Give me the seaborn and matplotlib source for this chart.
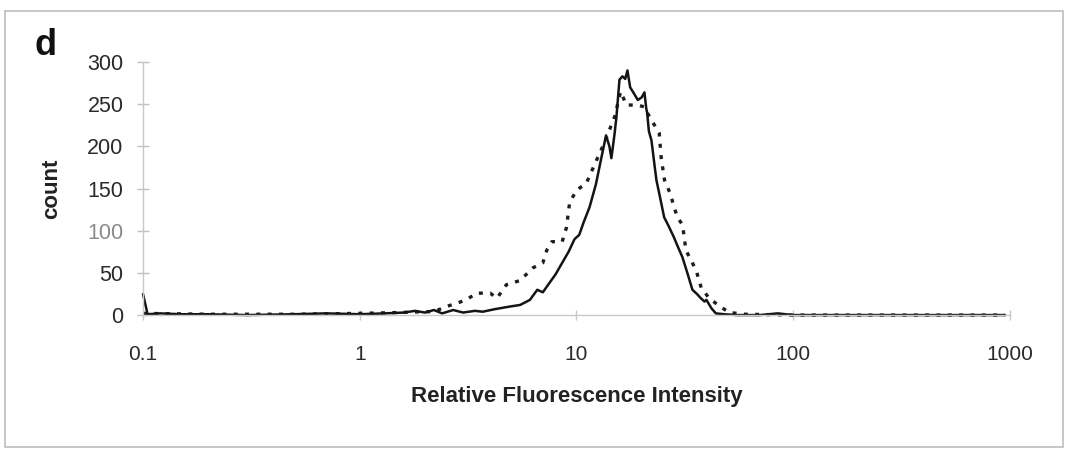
import numpy as np
import pandas as pd
import matplotlib
matplotlib.use("Agg")
import matplotlib.pyplot as plt
import seaborn as sns
from matplotlib.patches import Rectangle

# ---- data ----
solid_x = [0.1, 0.105, 0.12, 0.15, 0.2, 0.3, 0.5, 0.7, 1.0, 1.3, 1.6, 1.8, 2.0, 2.2,
           2.4, 2.7, 3.0, 3.4, 3.7, 4.2, 4.9, 5.5, 6.1, 6.6, 7.0, 7.5, 8.0, 8.6, 9.2,
           9.8, 10.3, 10.8, 11.5, 12.3, 13.0, 13.7, 14.2, 14.5, 15.0, 15.3, 15.8, 16.3,
           16.8, 17.2, 17.7, 18.5, 19.2, 20.0, 20.6, 21.0, 21.2, 21.6, 22.2, 23.0, 23.4,
           24.3, 25.4, 26.7, 28.2, 29.5, 30.8, 32.5, 34.3, 36.0, 37.5, 39.0, 39.8, 42.0,
           44.0, 48.0, 55.0, 70.0, 85.0, 100.0, 150.0, 300.0, 600.0, 950.0]
solid_y = [25, 1, 2, 1, 1, 0, 1, 2, 1, 2, 3, 5, 3, 6,
           2, 6, 3, 5, 4, 7, 10, 12, 18, 30, 27, 38, 48, 62, 75,
           90, 95, 110, 128, 155, 185, 213, 200, 186, 215, 235, 279, 283,
           280, 290, 270, 262, 255, 258, 264, 245, 240, 218, 207, 175, 160,
           140, 116, 105, 92, 80, 69, 50, 30, 25, 20, 16, 18, 8,
           2, 1, 0, 0, 2, 0, 0, 0, 0, 0]

dotted_x = [0.1, 0.2, 0.5, 1.0, 1.5, 2.0, 2.2, 2.5, 2.8, 3.1, 3.46, 4.0, 4.3, 4.75,
            5.5, 6.3, 7.0, 7.3, 7.7, 8.6, 9.0, 9.3, 10.0, 11.1, 12.4, 13.5, 15.0,
            16.0, 17.0, 19.0, 20.5, 22.2, 24.1, 24.6, 25.5, 27.0, 29.2, 30.9, 32.0,
            35.7, 37.7, 41.0, 45.0, 50.7, 60.0, 100.0, 300.0, 950.0]
dotted_y = [2, 1, 1, 2, 3, 4, 4, 10, 14, 18, 26, 26, 20, 36,
            41, 56, 62, 77, 87, 87, 104, 133, 148, 156, 184, 205, 235,
            265, 249, 249, 247, 231, 216, 187, 160, 145, 116, 107, 77,
            53, 32, 20, 12, 3, 1, 0, 0, 0]

series_names = ["solid", "dotted"]
y_ticks = [0, 50, 100, 150, 200, 250, 300]
x_ticks = [0.1, 1, 10, 100, 1000]
x_tick_labels = ["0.1", "1", "10", "100", "1000"]

df = pd.concat([
    pd.DataFrame({"x": dotted_x, "count": dotted_y, "series": series_names[1]}),
    pd.DataFrame({"x": solid_x, "count": solid_y, "series": series_names[0]}),
])

# ---- figure ----
sns.set_theme(style="white")
plt.rcParams["font.family"] = ["Liberation Sans", "DejaVu Sans"]

fig = plt.figure(figsize=(10.72, 4.54), dpi=100)
ax = fig.add_axes([0.1334, 0.306, 0.8086, 0.5574])

sns.lineplot(data=df, x="x", y="count", hue="series", style="series",
             palette={"solid": "#141414", "dotted": "#1e1e1e"},
             dashes={"solid": "", "dotted": (1.2, 2.2)},
             size="series", sizes={"solid": 1.8, "dotted": 2.4},
             sort=False, estimator=None, legend=False, ax=ax)

ax.set_xscale("log")
ax.set_xlim(0.1, 1000)
ax.set_ylim(0, 300)
ax.set_xticks(x_ticks)
ax.set_xticklabels(x_tick_labels)
ax.minorticks_off()
ax.set_yticks(y_ticks)
ax.set_yticklabels([str(v) for v in y_ticks])
for line in ax.lines:
    line.set_clip_on(False)

for s in ["top", "right"]:
    ax.spines[s].set_visible(False)
for s in ["left", "bottom"]:
    ax.spines[s].set_color("#c8c8c8")
    ax.spines[s].set_linewidth(1.0)

ax.tick_params(axis="y", which="major", direction="inout", length=8, width=1,
               color="#c0c0c0", labelsize=15.5, labelcolor="#2a2a2a", pad=10, left=True)
ax.tick_params(axis="x", which="major", direction="inout", length=7, width=1,
               color="#c8c8c8", labelsize=15, labelcolor="#2a2a2a", pad=18, bottom=True)
ax.get_yticklabels()[2].set_color("#8a8a8a")

ax.set_xlabel("Relative Fluorescence Intensity", fontsize=16, fontweight="bold",
              color="#222222", labelpad=16)
ax.set_ylabel("count", fontsize=16, fontweight="bold", color="#222222")
ax.yaxis.set_label_coords(-0.093, 0.5)

fig.text(0.0326, 0.879, "d", fontsize=26, fontweight="heavy", color="#111111",
         ha="left", va="baseline")

fig.patches.append(Rectangle((0.005, 0.015), 0.987, 0.96, transform=fig.transFigure,
                             fill=False, edgecolor="#bdbdbd", linewidth=1.2))

fig.savefig("out.png", dpi=100, facecolor="white")
